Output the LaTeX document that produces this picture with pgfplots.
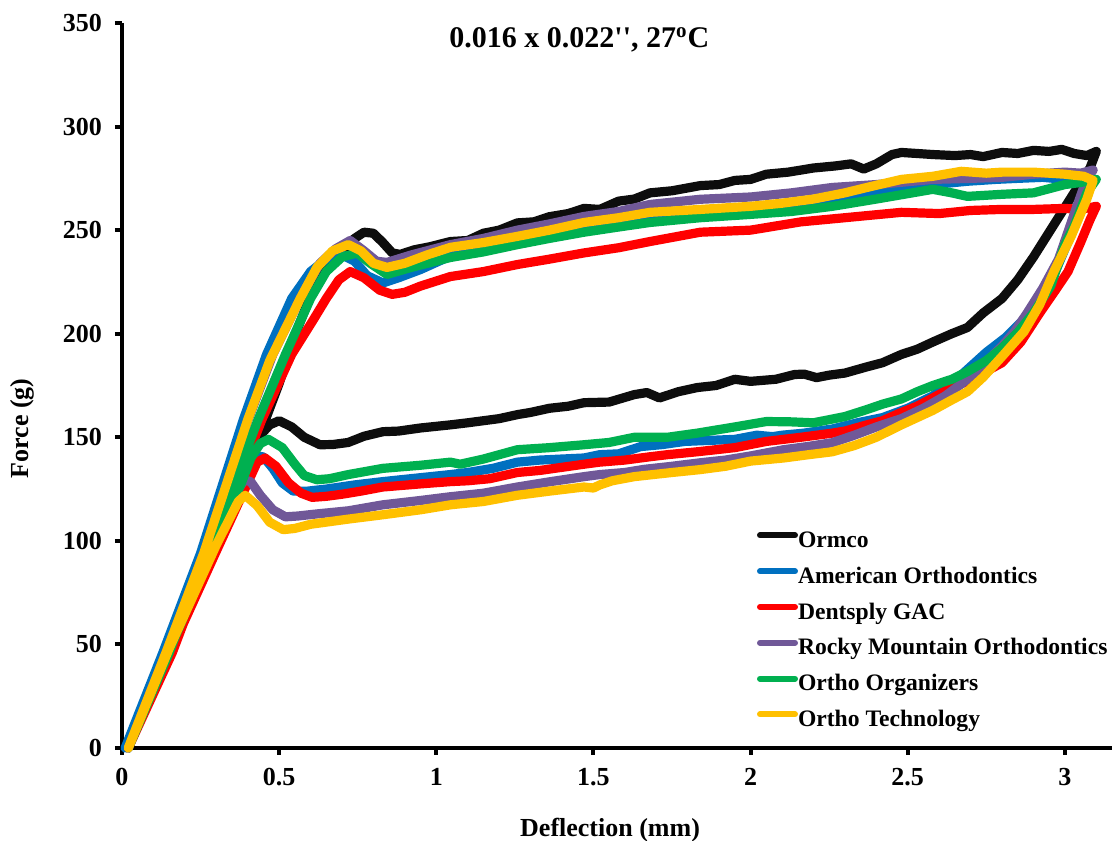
\documentclass[border=0pt]{standalone}
\usepackage{fontspec}
\setmainfont{Liberation Serif}
\usepackage{pgfplots}
\pgfplotsset{compat=1.18}
\definecolor{cblack}{RGB}{13,13,13}
\definecolor{cblue}{RGB}{0,112,192}
\definecolor{cred}{RGB}{255,0,0}
\definecolor{cpurple}{RGB}{112,88,152}
\definecolor{cgreen}{RGB}{0,176,80}
\definecolor{cyellow}{RGB}{255,192,0}
\begin{document}
\begin{tikzpicture}
\begin{axis}[
  scale only axis, width=495pt, height=362.5pt,
  xmin=0, xmax=3.15, ymin=0, ymax=350,
  axis x line*=bottom, axis y line*=left,
  xtick={0,0.5,1,1.5,2,2.5,3}, ytick={0,50,100,150,200,250,300,350},
  xticklabels={0,0.5,1,1.5,2,2.5,3},
  tick align=outside, major tick length=3.5pt,
  every tick/.style={line width=2pt, black},
  axis line style={line width=2pt, black},
  tick label style={font=\fontsize{13}{15}\selectfont\bfseries},
  /pgf/number format/assume math mode=true,
  xticklabel style={yshift=-3pt},
  yticklabel style={xshift=-3pt},
  xlabel={Deflection (mm)}, ylabel={Force (g)},
  label style={font=\fontsize{13}{15}\selectfont\bfseries},
  xlabel style={at={([yshift=-41pt]axis description cs:0.493,0)}, anchor=center},
  ylabel style={at={([xshift=-50pt]axis description cs:0,0.441)}, anchor=center},
  clip=false,
  every axis plot/.append style={line width=4.6pt, line join=round, line cap=round},
  legend cell align=left,
  legend style={at={(axis description cs:0.641,0.302)}, anchor=north west,
    draw=none, fill=none, inner sep=0pt, row sep=5.9pt,
    font=\fontsize{11.8}{14}\selectfont\bfseries,
    nodes={inner sep=0pt, text height=9pt, text depth=3pt}},
  legend image code/.code={\draw[#1, line width=3pt, line cap=round] (1.5pt,3pt) -- (19pt,3pt);},
]
\addplot[cblack] coordinates {
(0.02,0) (0.13,40) (0.25,87) (0.35,121) (0.433,149) (0.50,176) (0.56,203) (0.61,222) (0.66,233) (0.70,240) (0.74,246) (0.77,249) (0.80,248.5) (0.83,244) (0.86,239) (0.885,238.3) (0.93,240.5) (0.98,242) (1.045,244.5) (1.10,245) (1.15,248.5) (1.20,250) (1.258,253.5) (1.31,254) (1.36,256.5) (1.42,258) (1.47,260.5) (1.52,260) (1.58,264) (1.63,265) (1.68,268) (1.75,269) (1.84,271.5) (1.90,272) (1.95,274) (2.0,274.5) (2.05,277) (2.12,278) (2.2,280) (2.27,281) (2.32,282) (2.36,279.5) (2.40,282) (2.45,286.5) (2.48,287.5) (2.53,287) (2.58,286.5) (2.65,286) (2.70,286.5) (2.74,285.5) (2.80,287.5) (2.85,287) (2.90,288.5) (2.95,288) (2.99,289) (3.03,287) (3.07,286) (3.10,288)
(3.08,280) (3.05,273) (3.00,261) (2.95,249) (2.90,237) (2.85,226) (2.80,217) (2.74,210) (2.69,203) (2.64,200) (2.58,196) (2.53,192.5) (2.48,190) (2.42,186) (2.37,184) (2.30,181) (2.25,180) (2.21,178.8) (2.17,180.5) (2.14,180.3) (2.08,178) (2.0,177) (1.95,178) (1.89,175) (1.83,174) (1.77,172) (1.71,169) (1.67,171.6) (1.63,170.6) (1.55,167) (1.47,166.7) (1.42,165) (1.36,164) (1.30,162) (1.26,161) (1.20,159) (1.10,157) (1.045,156) (0.95,154.5) (0.88,153) (0.83,152.7) (0.77,150.5) (0.72,147.5) (0.67,146.5) (0.63,146.4) (0.58,150) (0.54,155) (0.50,158) (0.47,156) (0.44,151) (0.40,137) (0.30,103) (0.18,60) (0.08,22) (0.02,0)
};
\addlegendentry{Ormco}
\addplot[cblue] coordinates {
(0.01,0) (0.13,46) (0.25,94) (0.386,158.5) (0.46,190) (0.54,217) (0.60,230) (0.65,236) (0.70,238) (0.74,235) (0.78,228) (0.83,224.5) (0.88,227) (0.95,231) (1.045,237.5) (1.15,240.5) (1.258,244) (1.36,247) (1.47,250) (1.58,252.5) (1.68,255) (1.84,257.5) (2.0,259) (2.10,260) (2.16,261) (2.25,263) (2.32,265) (2.40,268.5) (2.48,270.6) (2.58,272) (2.69,273.6) (2.78,274.5) (2.85,275) (2.93,275.5) (3.0,274.5) (3.08,275)
(3.08,271) (3.05,259) (3.02,248) (2.97,230) (2.92,218) (2.87,207) (2.81,198) (2.75,191) (2.67,180) (2.58,170) (2.50,164) (2.42,159.5) (2.34,157) (2.26,154) (2.17,152) (2.10,151) (2.07,150.3) (2.02,151) (1.95,149) (1.87,148.5) (1.79,148) (1.72,146.5) (1.65,145.5) (1.58,142) (1.52,141.6) (1.47,140) (1.40,139.5) (1.33,139) (1.258,138) (1.18,135) (1.10,133) (1.045,132) (0.95,130.5) (0.83,128.6) (0.74,127) (0.65,125) (0.59,124) (0.545,124) (0.51,128) (0.48,135) (0.45,140.5) (0.43,141) (0.41,137) (0.38,127) (0.30,98) (0.15,48) (0.01,0)
};
\addlegendentry{American Orthodontics}
\addplot[cred] coordinates {
(0.02,0) (0.16,46) (0.28,94) (0.445,158.5) (0.54,190) (0.61,207) (0.65,217) (0.69,226) (0.726,230) (0.77,227) (0.82,221) (0.86,219) (0.90,220) (0.95,223) (1.045,227.6) (1.15,230) (1.258,233.4) (1.36,236) (1.47,239) (1.58,241.5) (1.68,244.5) (1.84,249) (1.92,249.5) (2.0,250) (2.16,254) (2.30,256) (2.48,258.6) (2.60,258) (2.70,259.5) (2.80,260) (2.90,260) (3.0,260.5) (3.05,260) (3.10,261.5)
(3.08,255) (3.05,244) (3.01,230) (2.97,221) (2.92,210) (2.86,196) (2.80,186) (2.74,181) (2.69,177) (2.64,174) (2.58,169) (2.53,165) (2.48,162) (2.42,158) (2.37,156) (2.30,153) (2.26,152) (2.16,150) (2.05,148) (1.95,145) (1.83,143) (1.735,141.6) (1.68,140.6) (1.60,139) (1.52,138) (1.47,137) (1.40,135.5) (1.33,134) (1.258,133) (1.17,130) (1.10,129) (1.045,128.6) (0.95,127.5) (0.83,126) (0.76,124) (0.70,122.5) (0.65,121.5) (0.605,121) (0.57,123) (0.53,128) (0.49,136) (0.455,140) (0.43,138) (0.40,128) (0.30,95) (0.15,45) (0.02,0)
};
\addlegendentry{Dentsply GAC}
\addplot[cpurple] coordinates {
(0.02,0) (0.14,46) (0.26,94) (0.40,158) (0.48,190) (0.57,218) (0.63,234) (0.68,241) (0.726,245) (0.77,240) (0.81,235) (0.843,234.4) (0.92,238) (1.045,243) (1.15,246) (1.258,250) (1.36,253) (1.47,256.6) (1.58,259) (1.68,262.4) (1.84,264.9) (2.0,266) (2.13,268) (2.26,270.6) (2.40,272) (2.58,274.5) (2.70,275) (2.80,275.5) (2.90,277) (3.0,278) (3.05,277.5) (3.09,279)
(3.07,275) (3.03,258) (2.98,236) (2.93,222) (2.88,210) (2.84,201) (2.80,194) (2.74,185) (2.69,178) (2.62,170) (2.55,164) (2.48,159) (2.40,155) (2.33,151) (2.26,147.4) (2.18,145.5) (2.105,144) (2.00,141) (1.92,139) (1.84,137.7) (1.75,136) (1.66,134.5) (1.60,133) (1.52,132) (1.47,131) (1.36,128.5) (1.258,126) (1.15,123) (1.045,121.3) (0.95,119.5) (0.83,117.4) (0.72,114.5) (0.62,113) (0.56,112) (0.52,111.6) (0.48,115) (0.44,122) (0.41,128.5) (0.39,129.5) (0.37,125) (0.30,101) (0.15,50) (0.02,0)
};
\addlegendentry{Rocky Mountain Orthodontics}
\addplot[cgreen] coordinates {
(0.02,0) (0.15,46) (0.27,94) (0.433,158.5) (0.52,190) (0.60,217) (0.65,230) (0.70,237) (0.748,239) (0.79,234) (0.843,228.6) (0.92,232) (1.045,236.8) (1.15,239.5) (1.258,243) (1.36,246) (1.47,249) (1.58,251.5) (1.68,253.7) (1.84,256) (2.0,257.6) (2.13,259) (2.26,261.5) (2.40,265) (2.58,269.7) (2.64,268) (2.69,266.3) (2.80,267.3) (2.90,268) (3.0,272) (3.05,273) (3.10,274.5)
(3.07,268) (3.03,252) (3.0,243) (2.955,223) (2.90,210) (2.85,200.6) (2.80,193) (2.75,187) (2.69,181.7) (2.64,178) (2.58,175) (2.53,172) (2.48,168.5) (2.42,166) (2.37,163.4) (2.30,160) (2.20,157) (2.12,157.5) (2.05,157.6) (1.95,155) (1.83,152) (1.735,150) (1.63,150) (1.55,147.5) (1.47,146.4) (1.36,145) (1.258,144) (1.15,139.5) (1.076,137) (1.045,138) (0.95,136.5) (0.83,135) (0.72,132) (0.66,130) (0.62,129.5) (0.58,131.5) (0.55,137) (0.51,145) (0.466,149) (0.44,147) (0.41,140) (0.38,128) (0.30,100) (0.15,47) (0.02,0)
};
\addlegendentry{Ortho Organizers}
\addplot[cyellow] coordinates {
(0.02,0) (0.14,46) (0.26,94) (0.40,158.5) (0.47,187) (0.567,217) (0.62,232) (0.67,240) (0.72,243) (0.76,240) (0.80,234) (0.843,232) (0.90,234) (0.97,238) (1.045,241.7) (1.15,244) (1.258,247) (1.36,250) (1.47,253.7) (1.58,256) (1.68,258.6) (1.84,260) (2.0,261.5) (2.10,263) (2.20,265) (2.30,268) (2.37,270.6) (2.48,274.5) (2.58,276) (2.67,278.4) (2.75,277.5) (2.80,278) (2.90,278) (3.0,277) (3.06,276) (3.09,274)
(3.07,265) (3.02,247) (2.965,230) (2.92,214) (2.87,201) (2.80,189) (2.74,179) (2.69,172) (2.64,168) (2.58,163) (2.53,159.5) (2.48,156) (2.40,150) (2.33,146) (2.26,143) (2.18,141.5) (2.105,140) (2.0,138.5) (1.92,136) (1.84,134.4) (1.75,133) (1.63,131) (1.56,129) (1.52,127) (1.50,125.5) (1.47,126) (1.36,124) (1.258,122) (1.15,119) (1.045,117.4) (0.95,115) (0.83,112.6) (0.72,110.5) (0.60,108) (0.55,106) (0.513,105.4) (0.47,109) (0.43,117) (0.392,122) (0.37,119) (0.30,98) (0.15,48) (0.02,0)
};
\addlegendentry{Ortho Technology}
\node[font=\fontsize{15}{18}\selectfont\bfseries] at (axis description cs:0.462,0.977) {0.016 x 0.022\textquotesingle\textquotesingle, 27\textsuperscript{o}C};
\end{axis}
\pgfresetboundingbox
\path[use as bounding box] (-61pt,-46.5pt) rectangle (497pt,374pt);
\end{tikzpicture}
\end{document}
